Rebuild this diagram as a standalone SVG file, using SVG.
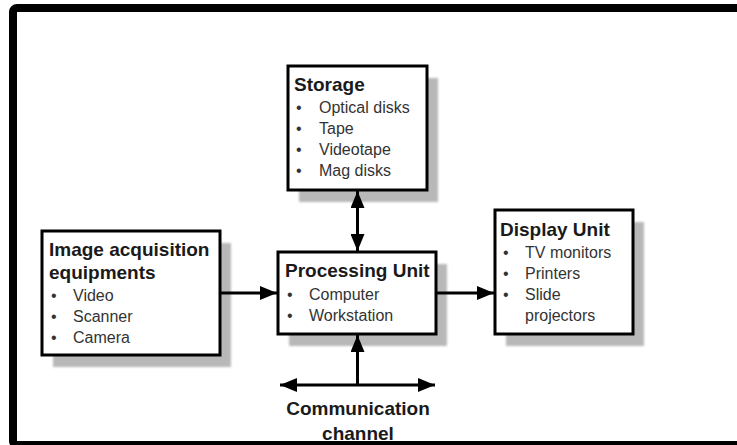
<svg xmlns="http://www.w3.org/2000/svg" width="737" height="445" viewBox="0 0 737 445">
  <defs>
    <style>
      .box { fill: #ffffff; stroke: #000000; stroke-width: 3; }
      .shadow { fill: #b8b8b8; }
      .title { font-family: "Liberation Sans", Arial, sans-serif; font-weight: bold; font-size: 19px; fill: #1a1a1a; }
      .item { font-family: "Liberation Sans", Arial, sans-serif; font-size: 16px; fill: #333333; }
      .conn { stroke: #000000; stroke-width: 3; fill: none; }
    </style>
    <marker id="ah" markerUnits="userSpaceOnUse" markerWidth="18" markerHeight="14" refX="17" refY="7" orient="auto-start-reverse">
      <path d="M0,0 L17,7 L0,14 Z" fill="#000000"/>
    </marker>
    <filter id="blur" x="-10%" y="-10%" width="120%" height="120%">
      <feGaussianBlur stdDeviation="1"/>
    </filter>
  </defs>

  <rect x="0" y="0" width="737" height="445" fill="#ffffff"/>
  <rect id="frame" x="13" y="8" width="740" height="437" rx="4" fill="none" stroke="#000000" stroke-width="8"/>

  <g id="shadows" filter="url(#blur)">
    <rect class="shadow" x="299" y="78" width="139" height="124"/>
    <rect class="shadow" x="53" y="243" width="178" height="124"/>
    <rect class="shadow" x="289" y="264" width="158" height="82"/>
    <rect class="shadow" x="506" y="222" width="138" height="124"/>
  </g>

  <g id="connectors">
    <line class="conn" x1="357.5" y1="191" x2="357.5" y2="251" marker-start="url(#ah)" marker-end="url(#ah)"/>
    <line class="conn" x1="221" y1="293" x2="277" y2="293" marker-end="url(#ah)"/>
    <line class="conn" x1="437" y1="293" x2="494" y2="293" marker-end="url(#ah)"/>
    <line class="conn" x1="357.5" y1="385" x2="357.5" y2="335" marker-end="url(#ah)"/>
    <line class="conn" x1="280" y1="385" x2="435" y2="385" marker-start="url(#ah)" marker-end="url(#ah)"/>
  </g>

  <g id="storage">
    <rect class="box" x="288" y="66" width="139" height="124"/>
    <text class="title" x="294" y="91">Storage</text>
    <text class="item" x="296" y="113">•</text><text class="item" x="319" y="113">Optical disks</text>
    <text class="item" x="296" y="134">•</text><text class="item" x="319" y="134">Tape</text>
    <text class="item" x="296" y="155">•</text><text class="item" x="319" y="155">Videotape</text>
    <text class="item" x="296" y="176">•</text><text class="item" x="319" y="176">Mag disks</text>
  </g>

  <g id="acquisition">
    <rect class="box" x="42" y="231" width="178" height="124"/>
    <text class="title" x="49" y="256">Image acquisition</text>
    <text class="title" x="49" y="279">equipments</text>
    <text class="item" x="51" y="301">•</text><text class="item" x="73" y="301">Video</text>
    <text class="item" x="51" y="322">•</text><text class="item" x="73" y="322">Scanner</text>
    <text class="item" x="51" y="343">•</text><text class="item" x="73" y="343">Camera</text>
  </g>

  <g id="processing">
    <rect class="box" x="278" y="252" width="158" height="82"/>
    <text class="title" x="285" y="277">Processing Unit</text>
    <text class="item" x="287" y="300">•</text><text class="item" x="309" y="300">Computer</text>
    <text class="item" x="287" y="321">•</text><text class="item" x="309" y="321">Workstation</text>
  </g>

  <g id="display">
    <rect class="box" x="495" y="210" width="138" height="124"/>
    <text class="title" x="500" y="236">Display Unit</text>
    <text class="item" x="503" y="258">•</text><text class="item" x="525" y="258">TV monitors</text>
    <text class="item" x="503" y="279">•</text><text class="item" x="525" y="279">Printers</text>
    <text class="item" x="503" y="300">•</text><text class="item" x="525" y="300">Slide</text>
    <text class="item" x="525" y="321">projectors</text>
  </g>

  <g id="communication">
    <text class="title" x="358" y="415" text-anchor="middle">Communication</text>
    <text class="title" x="358" y="440" text-anchor="middle">channel</text>
  </g>
</svg>
